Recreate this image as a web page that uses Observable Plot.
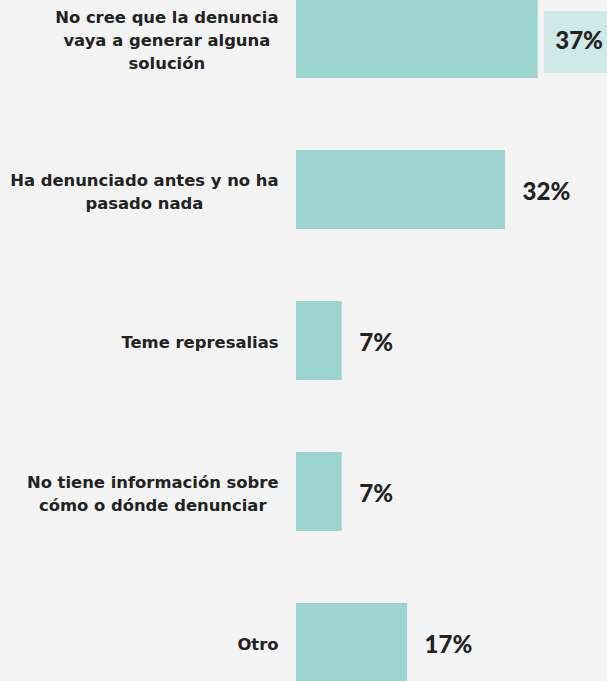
<!DOCTYPE html>
<html>
<head>
<meta charset="utf-8">
<script src="https://cdn.jsdelivr.net/npm/d3@7"></script>
<script src="https://cdn.jsdelivr.net/npm/@observablehq/plot@0.6"></script>
<style>
  html, body { margin: 0; padding: 0; background: #f3f3f3; overflow: hidden; }
  #chart svg { display: block; overflow: hidden; }
</style>
</head>
<body>
<div id="chart"></div>
<script>
const categories = [
  "No cree que la denuncia\nvaya a generar alguna\nsolución",
  "Ha denunciado antes y no ha\npasado nada",
  "Teme represalias",
  "No tiene información sobre\ncómo o dónde denunciar",
  "Otro"
];
const values = [37, 32, 7, 7, 17];
const highlighted = [true, false, false, false, false];

const data = categories.map((c, i) => ({category: c, value: values[i], highlight: highlighted[i]}));

const W = 607, H = 681;
const xMax = 47.6;
const labelFontSize = 16.4;
const labelFont = `bold ${labelFontSize}px 'DejaVu Sans'`;
const valueFontSize = 24;
const textColor = "#222222";
const barColor = "#9ed4d0";
const boxColor = "#cfe9e7";
const labelGap = 18;

const ctx = document.createElement("canvas").getContext("2d");
ctx.font = labelFont;
function blockWidth(s) {
  return Math.max(...s.split("\n").map(l => ctx.measureText(l).width));
}

const labelMarks = categories.map(c => Plot.text([c], {
  x: () => 0,
  y: d => d,
  text: d => d,
  textAnchor: "middle",
  dx: -(labelGap + blockWidth(c) / 2),
  lineHeight: 1.4,
  fontSize: labelFontSize,
  fontWeight: "bold",
  fontFamily: "DejaVu Sans",
  fill: textColor
}));

const chart = Plot.plot({
  width: W,
  height: H,
  margin: 0,
  style: {background: "#f3f3f3", overflow: "hidden"},
  x: {domain: [0, xMax], range: [296, W], axis: null},
  y: {domain: categories, range: [-73, 754], padding: 0.4768, axis: null},
  marks: [
    Plot.barX(data.filter(d => d.highlight), {
      x1: "value", x2: () => xMax, y: "category",
      fill: boxColor, insetLeft: 6, insetTop: 12, insetBottom: 5
    }),
    Plot.barX(data, {x: "value", y: "category", fill: barColor}),
    Plot.text(data, {
      x: "value", y: "category", text: d => `${d.value}%`,
      textAnchor: "start", dx: 17, dy: 2,
      fontSize: valueFontSize, fontWeight: 900, fontFamily: "Lato",
      fill: textColor
    }),
    ...labelMarks
  ]
});
document.getElementById("chart").appendChild(chart);
</script>
</body>
</html>
